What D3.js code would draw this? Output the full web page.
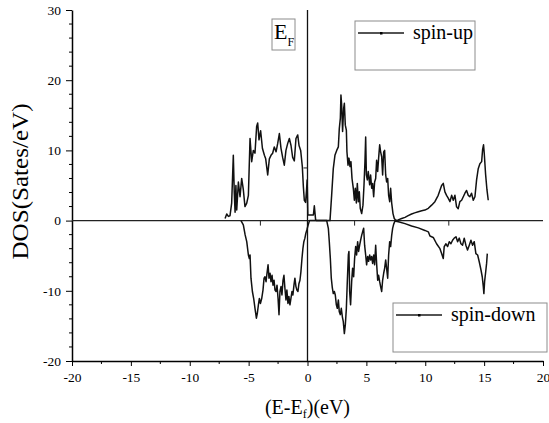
<!DOCTYPE html>
<html>
<head>
<meta charset="utf-8">
<script src="https://cdn.jsdelivr.net/npm/d3@7"></script>
<style>
  body { margin: 0; background: #fff; }
  svg { display: block; font-family: "Liberation Serif", "DejaVu Serif", serif; }
  .axis path, .axis line { stroke: #000; }
  .curve { fill: none; stroke: #111; stroke-width: 1.5; stroke-linejoin: round; }
  .box { fill: #fff; stroke: #8c8c8c; stroke-width: 1; }
</style>
</head>
<body>
<div id="chart"></div>
<script>
// данные: [энергия (эВ), DOS]
const spinUp = [
  [-7.00, 0.3], [-6.86, 0.94], [-6.72, 0.6], [-6.58, 0.7], [-6.44, 2.5], [-6.30, 9.3], [-6.22, 4.0],
  [-6.15, 1.2], [-6.08, 5.0], [-6.01, 1.5], [-5.87, 5.5], [-5.73, 3.4], [-5.59, 6.0], [-5.45, 4.4],
  [-5.31, 2.0], [-5.16, 2.5], [-5.02, 3.6], [-4.88, 11.7], [-4.74, 8.4], [-4.60, 10.0], [-4.46, 9.6],
  [-4.32, 13.4], [-4.23, 13.9], [-4.12, 11.5], [-3.98, 12.8], [-3.83, 10.3], [-3.66, 9.3], [-3.55, 8.8],
  [-3.38, 6.5], [-3.24, 8.8], [-3.10, 9.3], [-2.96, 9.6], [-2.82, 10.5], [-2.67, 9.8], [-2.53, 11.0],
  [-2.39, 12.4], [-2.25, 10.3], [-2.11, 9.0], [-1.97, 7.9], [-1.83, 10.0], [-1.68, 11.0], [-1.54, 11.7],
  [-1.40, 10.7], [-1.26, 9.0], [-1.12, 8.5], [-0.98, 11.7], [-0.83, 12.2], [-0.72, 10.7], [-0.58, 10.0],
  [-0.44, 7.7], [-0.35, 4.8], [-0.27, 2.9], [-0.16, 2.6], [-0.08, 4.4], [-0.03, 5.8], [0.03, 0.8],
  [0.30, 0.8], [0.50, 0.8], [0.58, 2.1], [0.69, 0.1], [0.78, 0], [1.91, 0], [2.05, 3.6], [2.19, 7.4],
  [2.33, 9.3], [2.48, 10.0], [2.62, 10.5], [2.70, 13.1], [2.79, 14.6], [2.84, 17.9], [2.90, 16.5],
  [2.98, 12.7], [3.07, 16.0], [3.13, 16.7], [3.21, 13.6], [3.30, 12.9], [3.35, 9.8], [3.44, 7.9],
  [3.52, 8.9], [3.61, 7.7], [3.69, 8.4], [3.78, 6.0], [3.89, 4.6], [3.98, 2.9], [4.06, 4.6], [4.15, 2.5],
  [4.23, 5.3], [4.32, 2.7], [4.40, 4.1], [4.48, 1.75], [4.60, 1.0], [4.71, 2.2], [4.80, 5.1], [4.88, 8.4],
  [4.94, 11.9], [5.00, 6.5], [5.08, 5.8], [5.16, 7.0], [5.28, 5.1], [5.36, 6.5], [5.45, 4.6], [5.53, 5.3],
  [5.62, 3.4], [5.70, 5.5], [5.79, 6.0], [5.87, 8.6], [5.96, 7.0], [6.04, 8.9], [6.13, 10.8], [6.21, 9.8],
  [6.30, 9.1], [6.38, 6.5], [6.47, 9.8], [6.55, 10.0], [6.64, 6.5], [6.72, 5.5], [6.81, 6.0], [6.89, 3.6],
  [6.98, 2.7], [7.06, 4.6], [7.15, 2.5], [7.26, 1.0], [7.37, 0.3], [7.49, 0.05], [7.70, 0.1], [8.00, 0.3],
  [8.28, 0.46], [8.55, 0.7], [8.84, 0.94], [9.10, 1.1], [9.41, 1.27], [9.70, 1.4], [9.97, 1.5],
  [10.26, 1.75], [10.54, 2.2], [10.82, 2.7], [11.10, 3.6], [11.39, 5.0], [11.53, 5.3], [11.67, 4.1],
  [11.81, 3.6], [11.95, 3.2], [12.10, 2.7], [12.24, 3.6], [12.38, 2.9], [12.52, 3.6], [12.66, 1.96],
  [12.80, 1.7], [12.94, 2.7], [13.09, 2.9], [13.23, 3.4], [13.37, 3.9], [13.51, 4.3], [13.65, 3.6],
  [13.79, 3.4], [13.93, 3.9], [14.08, 2.9], [14.22, 3.4], [14.36, 5.8], [14.50, 7.4], [14.64, 8.1],
  [14.79, 8.4], [14.87, 10.1], [14.95, 10.8], [15.01, 9.6], [15.12, 6.7], [15.24, 4.4], [15.35, 2.9]
];

const spinDown = [
  [-5.65, 0], [-5.45, -0.6], [-5.30, -2.0], [-5.16, -3.0], [-5.02, -4.9], [-4.94, -5.4], [-4.88, -4.9],
  [-4.80, -8.2], [-4.68, -10.1], [-4.57, -11.1], [-4.46, -12.5], [-4.34, -13.9], [-4.26, -13.2],
  [-4.17, -12.0], [-4.09, -11.1], [-4.00, -11.8], [-3.89, -11.1], [-3.78, -9.9], [-3.69, -8.2],
  [-3.61, -8.0], [-3.52, -8.7], [-3.44, -7.5], [-3.35, -6.3], [-3.27, -8.2], [-3.18, -7.5], [-3.10, -8.7],
  [-3.01, -7.8], [-2.93, -9.2], [-2.84, -8.5], [-2.76, -9.9], [-2.67, -10.1], [-2.59, -9.2], [-2.50, -11.1],
  [-2.42, -13.4], [-2.34, -10.1], [-2.25, -9.4], [-2.17, -10.6], [-2.08, -8.5], [-2.00, -7.8], [-1.92, -9.6],
  [-1.83, -11.3], [-1.75, -9.9], [-1.66, -11.8], [-1.58, -10.8], [-1.49, -12.0], [-1.41, -11.1],
  [-1.32, -10.1], [-1.24, -10.6], [-1.15, -9.2], [-1.07, -8.2], [-0.98, -9.4], [-0.90, -9.9], [-0.81, -10.1],
  [-0.73, -9.0], [-0.64, -8.5], [-0.56, -7.3], [-0.47, -5.4], [-0.39, -4.0], [-0.31, -3.0], [-0.22, -2.5],
  [-0.14, -1.8], [-0.05, -1.3], [0.06, -0.6], [0.17, 0], [1.63, 0], [1.77, -1.1], [1.85, -3.0], [1.94, -5.4],
  [2.02, -8.2], [2.11, -9.6], [2.19, -10.4], [2.28, -10.1], [2.36, -10.6], [2.45, -12.0], [2.53, -12.5],
  [2.62, -11.3], [2.70, -13.0], [2.79, -13.4], [2.87, -12.5], [2.96, -13.7], [3.04, -14.4], [3.13, -16.1],
  [3.21, -14.9], [3.30, -12.5], [3.38, -8.7], [3.47, -4.9], [3.52, -4.4], [3.58, -10.1], [3.66, -12.0],
  [3.75, -8.7], [3.83, -6.8], [3.92, -8.0], [4.00, -5.4], [4.09, -3.7], [4.17, -4.9], [4.26, -3.0],
  [4.34, -4.4], [4.43, -3.5], [4.51, -2.8], [4.60, -2.1], [4.68, -1.6], [4.77, -1.1], [4.85, -3.5],
  [4.94, -4.9], [5.02, -6.3], [5.11, -5.1], [5.19, -5.8], [5.28, -4.9], [5.36, -5.6], [5.45, -5.1],
  [5.53, -6.1], [5.62, -4.9], [5.70, -6.3], [5.79, -3.5], [5.87, -6.1], [5.96, -8.5], [6.04, -7.8],
  [6.13, -8.7], [6.21, -9.4], [6.30, -10.1], [6.38, -8.5], [6.47, -7.5], [6.55, -6.8], [6.64, -5.6],
  [6.72, -6.8], [6.81, -8.2], [6.89, -4.9], [6.98, -3.0], [7.06, -3.7], [7.15, -2.1], [7.23, -1.1],
  [7.32, -0.5], [7.43, -0.05], [7.80, -0.2], [8.28, -0.43], [8.84, -0.76], [9.41, -1.04], [9.97, -1.4],
  [10.26, -1.6], [10.40, -2.2], [10.68, -2.4], [10.96, -3.3], [11.25, -4.0], [11.39, -4.7], [11.53, -5.4],
  [11.61, -3.7], [11.76, -3.3], [11.90, -3.7], [12.04, -3.0], [12.18, -3.3], [12.32, -2.8], [12.46, -2.5],
  [12.61, -2.3], [12.75, -3.0], [12.89, -2.5], [13.03, -3.3], [13.17, -3.5], [13.31, -2.5], [13.45, -3.5],
  [13.59, -4.2], [13.74, -3.5], [13.88, -2.8], [14.02, -3.5], [14.16, -3.0], [14.30, -4.7], [14.45, -4.9],
  [14.59, -5.9], [14.73, -7.0], [14.84, -8.0], [14.93, -9.4], [14.98, -10.4], [15.04, -8.7], [15.12, -7.5],
  [15.21, -6.1], [15.27, -4.7]
];

const xTicks = [-20, -15, -10, -5, 0, 5, 10, 15, 20];
const yTicks = [-20, -10, 0, 10, 20, 30];
const zeroLineTicks = [-4, 4, 12];
const fermiLineTicks = [7.5];
const seriesNames = ['spin-up', 'spin-down'];

const width = 549, height = 423;
const margin = { left: 72, right: 6, top: 10, bottom: 62 };
const serif = '"Liberation Serif", "DejaVu Serif", serif';

const svg = d3.select('#chart').append('svg')
  .attr('width', width)
  .attr('height', height);

svg.append('rect').attr('width', width).attr('height', height).attr('fill', '#fff');

const x = d3.scaleLinear().domain([-20, 20]).range([margin.left, width - margin.right]);
const y = d3.scaleLinear().domain([-20, 30]).range([height - margin.bottom, margin.top]);

// малые деления
const xMinor = d3.range(-20, 20.01, 2.5).filter(v => !xTicks.includes(v));
const yMinor = d3.range(-20, 30.01, 2).filter(v => !yTicks.includes(v));

svg.append('g').selectAll('line').data(xMinor).join('line')
  .attr('x1', d => x(d)).attr('x2', d => x(d))
  .attr('y1', y(-20)).attr('y2', y(-20) + 3)
  .attr('stroke', '#000');

svg.append('g').selectAll('line').data(yMinor).join('line')
  .attr('x1', x(-20) - 3).attr('x2', x(-20))
  .attr('y1', d => y(d)).attr('y2', d => y(d))
  .attr('stroke', '#000');

// оси
function styleAxis(g) {
  g.attr('font-family', serif).attr('font-size', 13.5);
  g.select('.domain').attr('stroke-width', 1.5);
  g.selectAll('text').attr('fill', '#000');
}

svg.append('g')
  .attr('class', 'axis')
  .attr('transform', `translate(0,${y(-20)})`)
  .call(d3.axisBottom(x).tickValues(xTicks).tickSize(5).tickSizeOuter(0).tickPadding(6).tickFormat(d => String(d)))
  .call(styleAxis);

svg.append('g')
  .attr('class', 'axis')
  .attr('transform', `translate(${x(-20)},0)`)
  .call(d3.axisLeft(y).tickValues(yTicks).tickSize(6).tickSizeOuter(0).tickPadding(5).tickFormat(d => String(d)))
  .call(styleAxis);

// линия нуля и уровень Ферми
svg.append('line')
  .attr('x1', x(-20)).attr('x2', x(20))
  .attr('y1', y(0)).attr('y2', y(0))
  .attr('stroke', '#222').attr('stroke-width', 1.2);

svg.append('g').selectAll('line').data(zeroLineTicks).join('line')
  .attr('x1', d => x(d)).attr('x2', d => x(d))
  .attr('y1', y(0)).attr('y2', y(0) + 5)
  .attr('stroke', '#222');

svg.append('line')
  .attr('x1', x(0)).attr('x2', x(0))
  .attr('y1', y(30)).attr('y2', y(-20))
  .attr('stroke', '#111').attr('stroke-width', 1.3);

svg.append('g').selectAll('line').data(fermiLineTicks).join('line')
  .attr('x1', x(0) - 4).attr('x2', x(0))
  .attr('y1', d => y(d)).attr('y2', d => y(d))
  .attr('stroke', '#222');

// кривые DOS
const line = d3.line().x(d => x(d[0])).y(d => y(d[1]));

svg.append('path').datum(spinUp).attr('class', 'curve').attr('d', line);
svg.append('path').datum(spinDown).attr('class', 'curve').attr('d', line);

// подписи осей
svg.append('text')
  .attr('transform', `translate(28,${(y(30) + y(-20)) / 2 - 4}) rotate(-90)`)
  .attr('text-anchor', 'middle')
  .attr('font-size', 23)
  .attr('textLength', 156)
  .attr('lengthAdjust', 'spacingAndGlyphs')
  .text('DOS(Sates/eV)');

const xt = svg.append('text')
  .attr('x', x(0))
  .attr('y', 414)
  .attr('text-anchor', 'middle')
  .attr('font-size', 20);
xt.append('tspan').text('(E-E');
xt.append('tspan').attr('font-size', 12).attr('dy', 4).text('f');
xt.append('tspan').attr('dy', -4).text(')(eV)');

// метка E_F
svg.append('rect').attr('class', 'box').attr('x', 272).attr('y', 19).attr('width', 23).attr('height', 31);
const ef = svg.append('text').attr('x', 274).attr('y', 39).attr('font-size', 22);
ef.append('tspan').text('E');
ef.append('tspan').attr('font-size', 12).attr('dy', 7).text('F');

// легенды
function legend(bx, by, bw, bh, label) {
  const g = svg.append('g');
  g.append('rect').attr('class', 'box').attr('x', bx).attr('y', by).attr('width', bw).attr('height', bh);
  g.append('line')
    .attr('x1', bx + 3).attr('x2', bx + 49)
    .attr('y1', by + 12).attr('y2', by + 12)
    .attr('stroke', '#1a1a1a').attr('stroke-width', 1.3);
  g.append('rect')
    .attr('x', bx + 25).attr('y', by + 11).attr('width', 2.5).attr('height', 2.5)
    .attr('fill', '#000');
  g.append('text')
    .attr('x', bx + 58).attr('y', by + 18)
    .attr('font-size', 20)
    .text(label);
}

legend(355, 21, 120, 49, seriesNames[0]);
legend(393, 303, 154, 49, seriesNames[1]);
</script>
</body>
</html>
